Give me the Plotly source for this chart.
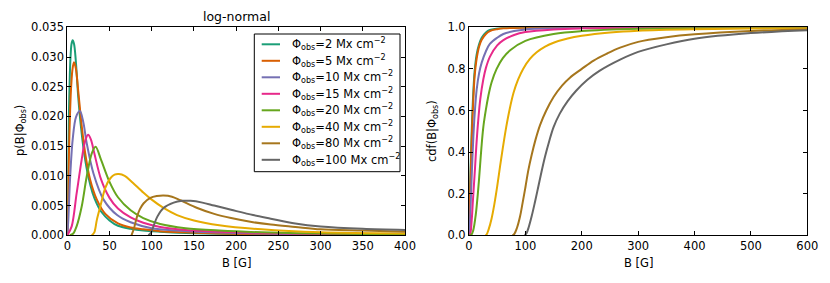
import plotly.graph_objects as go

# ---------------- data ----------------
phi_values = [2, 5, 10, 15, 20, 40, 80, 100]
colors = ["#1b9e77", "#d95f02", "#7570b3", "#e7298a", "#66a61e", "#e6ab02", "#a6761d", "#666666"]

# pdf panel (left): B [G] and p(B|Phi)
pdf_B_2 = [0, 0.5, 1, 2, 3, 4, 5, 6.3, 8, 10, 13, 16, 20, 25, 30, 35, 40, 50, 60, 75, 90, 110, 140, 180, 230, 300, 400]
pdf_p_2 = [0, 0.006, 0.012, 0.021, 0.027, 0.0305, 0.0322, 0.0328, 0.0322, 0.0295, 0.0232, 0.0185, 0.0138, 0.0098, 0.0071, 0.0053, 0.0040, 0.0025, 0.0016, 0.0011, 0.0008, 0.0006, 0.0004, 0.00025, 0.00015, 0.00008, 0.00004]
pdf_B_5 = [0, 1, 2, 3, 4, 5, 6, 7.9, 10, 13, 17, 21, 27, 35, 45, 60, 75, 90, 110, 140, 180, 230, 300, 400]
pdf_p_5 = [0, 0.007, 0.014, 0.0195, 0.0235, 0.026, 0.0278, 0.0291, 0.0282, 0.0242, 0.0185, 0.0140, 0.0094, 0.0060, 0.0036, 0.0020, 0.0013, 0.0010, 0.0007, 0.0005, 0.0003, 0.0002, 0.0001, 0.00005]
pdf_B_10 = [0, 1.2, 3.2, 6.3, 10.3, 15, 19, 23, 31, 43, 59, 75, 100, 130, 170, 230, 300, 400]
pdf_p_10 = [0, 0.0026, 0.0093, 0.0160, 0.0199, 0.0209, 0.0190, 0.0155, 0.0104, 0.0060, 0.0034, 0.0022, 0.0012, 0.0008, 0.0005, 0.0003, 0.00015, 0.0001]
pdf_B_15 = [0, 5.2, 11, 17, 21, 24.6, 28, 32, 40, 50, 60, 75, 90, 110, 140, 180, 230, 300, 400]
pdf_p_15 = [0, 0.0015, 0.0070, 0.0127, 0.0158, 0.0169, 0.0161, 0.0138, 0.0094, 0.0063, 0.0045, 0.0030, 0.0021, 0.0014, 0.0009, 0.0006, 0.0004, 0.0002, 0.0001]
pdf_B_20 = [3, 7, 11, 17, 23, 29, 33.5, 40, 50, 60, 75, 90, 110, 140, 180, 230, 300, 400]
pdf_p_20 = [0, 0.0003, 0.0015, 0.0048, 0.0099, 0.0138, 0.0149, 0.0127, 0.0090, 0.0064, 0.0042, 0.0029, 0.0019, 0.0012, 0.0008, 0.0005, 0.0003, 0.00015]
pdf_B_40 = [29, 32, 35, 39, 45, 51, 56, 61, 68, 75, 90, 100, 114, 130, 150, 180, 230, 300, 400]
pdf_p_40 = [0, 0.0005, 0.0026, 0.0048, 0.0080, 0.0096, 0.0102, 0.0103, 0.0100, 0.0092, 0.0072, 0.0060, 0.0046, 0.0034, 0.0025, 0.0017, 0.0010, 0.0005, 0.0003]
pdf_B_80 = [76, 79, 82.5, 86, 90.5, 98.4, 106, 114, 124, 134, 154, 174, 194, 220, 241, 270, 300, 350, 400]
pdf_p_80 = [0, 0.0012, 0.0031, 0.0044, 0.0054, 0.0063, 0.0066, 0.0067, 0.0065, 0.0059, 0.0046, 0.0036, 0.0029, 0.0022, 0.0018, 0.0014, 0.0010, 0.0008, 0.0006]
pdf_B_100 = [96, 99, 102, 106.5, 114, 126, 136, 146, 160, 174, 194, 220, 241, 270, 300, 350, 400]
pdf_p_100 = [0, 0.0004, 0.0015, 0.0031, 0.0046, 0.0055, 0.0058, 0.0058, 0.0055, 0.0050, 0.0043, 0.0034, 0.0028, 0.0020, 0.0015, 0.0011, 0.0009]

# cdf panel (right): B [G] and cdf(B|Phi)
cdf_B_2 = [0, 1, 2, 3, 4.7, 6, 7.7, 10, 13.6, 18, 22.5, 30, 37, 50, 61, 100, 600]
cdf_c_2 = [0, 0.12, 0.24, 0.34, 0.49, 0.59, 0.69, 0.79, 0.87, 0.92, 0.95, 0.975, 0.987, 0.994, 0.997, 0.999, 1.0]
cdf_B_5 = [0, 1, 2, 3, 4.7, 6, 7.7, 10, 13.6, 18, 22.5, 30, 37, 50, 61, 100, 600]
cdf_c_5 = [0, 0.09, 0.20, 0.30, 0.45, 0.55, 0.655, 0.765, 0.85, 0.908, 0.94, 0.968, 0.982, 0.991, 0.995, 0.998, 1.0]
cdf_B_10 = [0, 1, 2, 3, 5, 7.7, 10, 13.6, 18, 22.5, 30, 37, 50, 61, 80, 100, 150, 200, 600]
cdf_c_10 = [0, 0.03, 0.08, 0.15, 0.30, 0.47, 0.58, 0.70, 0.78, 0.83, 0.885, 0.92, 0.95, 0.968, 0.982, 0.99, 0.996, 0.998, 1.0]
cdf_B_15 = [0, 2, 4.7, 7, 10.6, 13, 16.6, 20, 25.4, 30, 37, 50, 61, 80, 100, 150, 200, 300, 600]
cdf_c_15 = [0, 0.005, 0.07, 0.17, 0.32, 0.43, 0.56, 0.655, 0.75, 0.805, 0.858, 0.913, 0.938, 0.963, 0.977, 0.99, 0.995, 0.998, 1.0]
cdf_B_20 = [0, 4, 7.7, 12, 16, 19.5, 22, 25.4, 30, 34.3, 40, 49, 60, 73, 100, 150, 200, 300, 400, 600]
cdf_c_20 = [0, 0.002, 0.026, 0.10, 0.21, 0.33, 0.42, 0.52, 0.605, 0.67, 0.735, 0.80, 0.852, 0.89, 0.935, 0.968, 0.982, 0.993, 0.997, 0.999]
cdf_B_40 = [29, 31, 35, 40, 45, 50, 55, 60, 66, 72, 79, 87, 96, 108, 120, 135, 150, 175, 200, 250, 300, 400, 500, 600]
cdf_c_40 = [0, 0.003, 0.03, 0.08, 0.15, 0.235, 0.33, 0.42, 0.52, 0.605, 0.685, 0.748, 0.80, 0.848, 0.88, 0.907, 0.926, 0.946, 0.959, 0.975, 0.984, 0.991, 0.994, 0.996]
cdf_B_80 = [77, 80, 85, 90.5, 95, 100, 105, 111, 118, 126, 137, 150, 165, 179, 200, 221, 245, 268, 300, 350, 400, 500, 600]
cdf_c_80 = [0, 0.005, 0.035, 0.09, 0.155, 0.23, 0.31, 0.385, 0.46, 0.53, 0.60, 0.665, 0.72, 0.758, 0.80, 0.84, 0.874, 0.902, 0.93, 0.952, 0.966, 0.982, 0.99]
cdf_B_100 = [99, 102, 106, 111, 117, 123, 129, 135, 142, 150, 161, 175, 190, 210, 232, 268, 300, 350, 400, 500, 600]
cdf_c_100 = [0, 0.01, 0.04, 0.09, 0.16, 0.235, 0.31, 0.38, 0.45, 0.52, 0.585, 0.645, 0.695, 0.748, 0.792, 0.845, 0.882, 0.918, 0.945, 0.972, 0.986]

pdf_B = [pdf_B_2, pdf_B_5, pdf_B_10, pdf_B_15, pdf_B_20, pdf_B_40, pdf_B_80, pdf_B_100]
pdf_p = [pdf_p_2, pdf_p_5, pdf_p_10, pdf_p_15, pdf_p_20, pdf_p_40, pdf_p_80, pdf_p_100]
cdf_B = [cdf_B_2, cdf_B_5, cdf_B_10, cdf_B_15, cdf_B_20, cdf_B_40, cdf_B_80, cdf_B_100]
cdf_c = [cdf_c_2, cdf_c_5, cdf_c_10, cdf_c_15, cdf_c_20, cdf_c_40, cdf_c_80, cdf_c_100]

left_xticks = [0, 50, 100, 150, 200, 250, 300, 350, 400]
left_yticks = [0.000, 0.005, 0.010, 0.015, 0.020, 0.025, 0.030, 0.035]
right_xticks = [0, 100, 200, 300, 400, 500, 600]
right_yticks = [0.0, 0.2, 0.4, 0.6, 0.8, 1.0]
legend_labels = [f"Φ<sub>obs</sub>={phi} Mx cm<sup>−2</sup>" for phi in phi_values]

# ---------------- figure ----------------
W, H = 830, 283
fig = go.Figure()

for col, bx, py in zip(colors, pdf_B, pdf_p):
    fig.add_trace(go.Scatter(
        x=bx, y=py, mode="lines", line=dict(color=col, width=2, shape="spline", smoothing=0.9),
        showlegend=False, xaxis="x", yaxis="y"))

for col, bx, cy in zip(colors, cdf_B, cdf_c):
    fig.add_trace(go.Scatter(
        x=bx, y=cy, mode="lines", line=dict(color=col, width=2, shape="spline", smoothing=1.0),
        showlegend=False, xaxis="x2", yaxis="y2"))

def px_x(p):
    return p / W

def px_y(p):
    return 1 - p / H

axis_common = dict(showline=True, linecolor="black", linewidth=1, mirror="ticks",
                   ticks="inside", ticklen=4, tickcolor="black", showgrid=False,
                   zeroline=False, tickfont=dict(size=11.5, color="black"))

fig.update_layout(
    width=W, height=H,
    margin=dict(l=0, r=0, t=0, b=0, autoexpand=False),
    paper_bgcolor="white", plot_bgcolor="white",
    font=dict(family="DejaVu Sans", size=11, color="black"),
    xaxis=dict(domain=[px_x(67.3), px_x(405)], range=[0, 400], tickvals=left_xticks,
               anchor="y", **axis_common),
    yaxis=dict(domain=[px_y(235.3), px_y(27.3)], range=[0, 0.035], tickvals=left_yticks,
               tickformat=".3f", anchor="x", **axis_common),
    xaxis2=dict(domain=[px_x(469), px_x(807.3)], range=[0, 600], tickvals=right_xticks,
                anchor="y2", **axis_common),
    yaxis2=dict(domain=[px_y(235.3), px_y(27.3)], range=[0, 1.0], tickvals=right_yticks,
                tickformat=".1f", anchor="x2", **axis_common),
    showlegend=False,
)

ann = [
    dict(text="log-normal", x=px_x(236), y=px_y(17), xref="paper", yref="paper",
         showarrow=False, font=dict(size=12.5), xanchor="center", yanchor="middle"),
    dict(text="B [G]", x=px_x(236), y=px_y(263), xref="paper", yref="paper",
         showarrow=False, font=dict(size=11.5), xanchor="center", yanchor="middle"),
    dict(text="B [G]", x=px_x(638), y=px_y(263), xref="paper", yref="paper",
         showarrow=False, font=dict(size=11.5), xanchor="center", yanchor="middle"),
    dict(text="p(B|Φ<sub>obs</sub>)", x=px_x(20), y=px_y(131), xref="paper", yref="paper",
         showarrow=False, font=dict(size=11.5), textangle=-90, xanchor="center", yanchor="middle"),
    dict(text="cdf(B|Φ<sub>obs</sub>)", x=px_x(432), y=px_y(131), xref="paper", yref="paper",
         showarrow=False, font=dict(size=11.5), textangle=-90, xanchor="center", yanchor="middle"),
]

# legend box drawn by hand (frame, line samples, labels)
shapes = [dict(type="rect", xref="paper", yref="paper",
               x0=px_x(254.3), x1=px_x(400), y0=px_y(171.7), y1=px_y(34),
               line=dict(color="black", width=1), fillcolor="white", layer="above")]
row0, dy = 44.3, 16.5
for i, (col, lab) in enumerate(zip(colors, legend_labels)):
    yc = row0 + i * dy
    shapes.append(dict(type="line", xref="paper", yref="paper",
                       x0=px_x(261.7), x1=px_x(280), y0=px_y(yc), y1=px_y(yc),
                       line=dict(color=col, width=2), layer="above"))
    ann.append(dict(text=lab, x=px_x(290), y=px_y(yc), xref="paper", yref="paper",
                    showarrow=False, font=dict(size=11.5), xanchor="left", yanchor="middle"))

fig.update_layout(annotations=ann, shapes=shapes)

fig.write_html("out.html", config={"displayModeBar": False},
               post_script="document.body.style.margin='0';")
